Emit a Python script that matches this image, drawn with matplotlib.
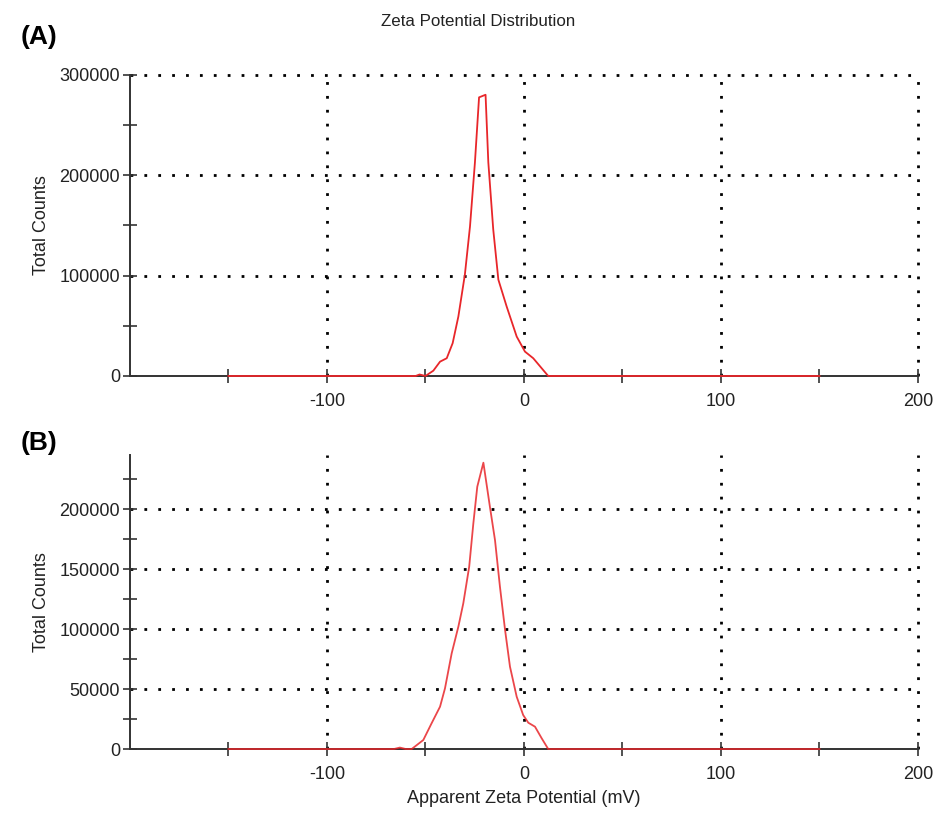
import numpy as np
import matplotlib.pyplot as plt
from matplotlib.ticker import MultipleLocator, FixedLocator

plt.rcParams['font.family'] = ['Liberation Sans', 'DejaVu Sans']
plt.rcParams['axes.unicode_minus'] = False

# panel A: zeta potential (mV) vs total counts
zeta_a = [-150, -55, -53, -50, -46, -42.6, -39.2, -36.2, -33.3, -30, -27.4, -24.9,
          -22.8, -19.5, -18.1, -15.6, -13, -8.8, -3.7, 0.5, 4.7, 12.3, 150]
counts_a = [0, 0, 1500, 0, 5300, 14300, 17700, 32700, 59300, 101000, 149000, 212700,
            277700, 280300, 213000, 146000, 96000, 69300, 39300, 24300, 17700, 0, 0]

# panel B
zeta_b = [-150, -66, -63, -60, -57, -51.1, -46.9, -42.6, -40.1, -36.7, -33.3, -30.8,
          -27.8, -25.7, -23.7, -20.6, -17.3, -14.7, -12.2, -9.6, -7.1, -3.7, -0.4,
          2.2, 5.6, 9.0, 12.3, 150]
counts_b = [0, 0, 1200, 0, 0, 7500, 21400, 35300, 50500, 79700, 102000, 121400,
            152000, 188000, 218600, 238600, 202000, 174000, 135300, 99200, 68600,
            43600, 28300, 21900, 18600, 8900, 0, 0]

RED = '#e8262a'
TXT = '#222222'


def style_axes(ax, ymax, ymajor, yminor):
    ax.set_xlim(-200, 200)
    ax.set_ylim(0, ymax)
    for s in ['top', 'right']:
        ax.spines[s].set_visible(False)
    for s in ['left', 'bottom']:
        ax.spines[s].set_color('#333333')
        ax.spines[s].set_linewidth(1.4)
        ax.spines[s].set_zorder(1)
    ax.xaxis.set_major_locator(FixedLocator([-100, 0, 100, 200]))
    ax.xaxis.set_minor_locator(FixedLocator([-150, -50, 50, 150]))
    ax.yaxis.set_major_locator(MultipleLocator(ymajor))
    ax.yaxis.set_minor_locator(MultipleLocator(yminor))
    ax.tick_params(which='both', direction='inout', length=10, width=1.2,
                   color='#333333', labelsize=13, labelcolor=TXT)
    ax.tick_params(axis='x', pad=7)
    ax.tick_params(axis='y', pad=2)
    for x in [-100, 0, 100, 200]:
        ax.axvline(x, color='black', lw=2, ls=(0, (1, 4)), zorder=0.5,
                   clip_on=False)
    for y in np.arange(ymajor, ymax + 1, ymajor):
        ax.axhline(y, color='black', lw=2, ls=(0, (1, 4)), zorder=0.5,
                   clip_on=False)
    ax.set_ylabel('Total Counts', fontsize=13, color=TXT, labelpad=7)


fig = plt.figure(figsize=(9.5, 8.24), dpi=100)

ax1 = fig.add_axes([0.1368, 0.5437, 0.8295, 0.3653])
ax1.plot(zeta_a, counts_a, color=RED, lw=1.3, clip_on=False, zorder=3)
style_axes(ax1, 300000, 100000, 50000)

ax2 = fig.add_axes([0.1368, 0.0910, 0.8295, 0.3568])
ax2.plot(zeta_b, counts_b, color=RED, lw=1.3, alpha=0.85, clip_on=False, zorder=3)
style_axes(ax2, 245000, 50000, 25000)
ax2.set_xlabel('Apparent Zeta Potential (mV)', fontsize=13, color=TXT,
               labelpad=5)

fig.text(0.503, 0.974, 'Zeta Potential Distribution', ha='center', va='center',
         fontsize=12.2, color=TXT)
fig.text(0.022, 0.955, '(A)', ha='left', va='center', fontsize=19,
         fontweight='bold')
fig.text(0.022, 0.462, '(B)', ha='left', va='center', fontsize=19,
         fontweight='bold')

fig.savefig('out.png', dpi=100)
